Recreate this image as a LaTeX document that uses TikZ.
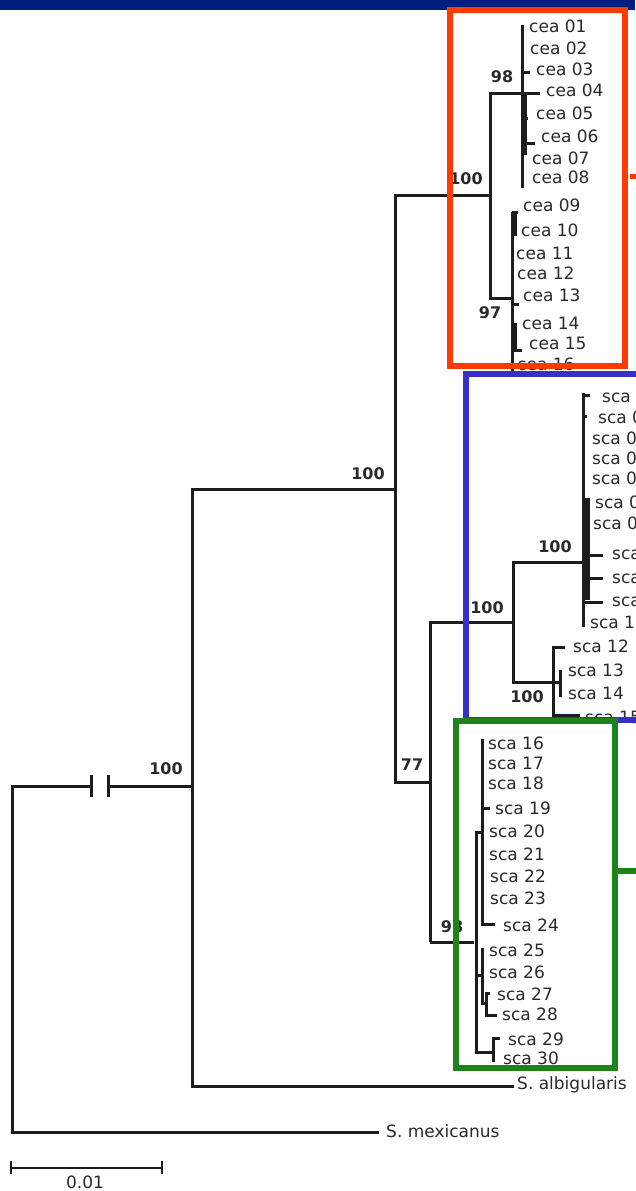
\documentclass[tikz,border=0pt]{standalone}
\usepackage{fontspec}
\setmainfont{DejaVu Sans}
\definecolor{navy}{HTML}{001E7E}
\definecolor{framered}{HTML}{FF3A00}
\definecolor{frameblue}{HTML}{3530C8}
\definecolor{framegreen}{HTML}{1E8419}
\definecolor{ink}{HTML}{1C1C1C}
\definecolor{txt}{HTML}{2A2A2A}
\newcommand\leaf[4]{\node[leaf] (#1) at (#2,#3+6) {#4};}
\newcommand\supp[4]{\node[supp] (#1) at (#2,#3) {#4};}
\begin{document}
\begin{tikzpicture}[x=1pt,y=-1pt,
  br/.style={line width=3pt, draw=ink, line join=miter},
  leaf/.style={anchor=base west, inner sep=0pt, font=\fontsize{17}{18}\selectfont, text=txt},
  supp/.style={anchor=center, inner sep=0pt, font=\bfseries\fontsize{16}{18}\selectfont, text=txt},
  frame/.style={line width=6pt}]
\useasboundingbox[fill=white] (0,0) rectangle (635,1191);
\fill[navy] (0,0) rectangle (635,10);

% ---------- tree ----------
\coordinate (root) at (12,786);
\coordinate (nB) at (192,786);
\coordinate (nC) at (395,489);
\coordinate (nD) at (490,195);
\coordinate (nE) at (430,782);
\coordinate (nF) at (513,622);
\coordinate (nG) at (474,942);

\draw[br] (379,1132) -- (12,1132) -- (root) -- (91,786);
\draw[br] (108,786) -- (nB);
\draw[br] (91,775) -- (91,797);
\draw[br] (108,775) -- (108,797);
\draw[br] (514,1086) -- (192,1086) -- (192,489) -- (nC);
\draw[br] (nE) -- (395,782) -- (395,195) -- (nD);
% cea clade
\draw[br] (540,93) -- (490,93) -- (490,298) -- (512,298);
\draw[br] (522,25) -- (522,188);
\draw[br] (522,72) -- (530,72);
\fill[ink] (521.5,95) rectangle (527,155);
\draw[br] (522,118) -- (528,118);
\draw[br] (522,143) -- (535,143);
\draw[br] (512,212) -- (512,372);
\draw[br] (512,212) -- (518,212);
\fill[ink] (511.5,214) rectangle (517,236);
\draw[br] (512,304) -- (519,304);
\draw[br] (512,335) -- (515,335);
\draw[br] (515,323) -- (515,350) -- (522,350);
% sca 01-15
\draw[br] (430,942) -- (430,622) -- (nF);
\draw[br] (583,562) -- (513,562) -- (513,682) -- (553,682);
\draw[br] (583,393) -- (583,627);
\draw[br] (583,395) -- (590,395);
\draw[br] (583,416) -- (587,416);
\fill[ink] (582.5,498) rectangle (590,600);
\draw[br] (583,555) -- (603,555);
\draw[br] (583,578) -- (603,578);
\draw[br] (583,602) -- (603,602);
\draw[br] (565,647) -- (553,647) -- (553,715) -- (580,715);
\draw[br] (553,682) -- (560,682);
\draw[br] (560,670) -- (560,697);
% sca 16-30
\draw[br] (430,942) -- (nG);
\draw[br] (482,832) -- (476,832) -- (476,1052) -- (493,1052);
\draw[br] (482,739) -- (482,924) -- (495,924);
\draw[br] (482,808) -- (490,808);
\draw[br] (476,975) -- (482,975);
\draw[br] (482,948) -- (482,1003) -- (486,1003);
\draw[br] (490,993) -- (486,993) -- (486,1015) -- (497,1015);
\draw[br] (500,1038) -- (493,1038) -- (493,1062);

% scale bar
\coordinate (sbL) at (11,1168);
\coordinate (sbR) at (162,1168);
\draw[line width=2pt, draw=ink] (sbL) -- (sbR);
\draw[line width=2pt, draw=ink] (11,1161) -- (11,1174);
\draw[line width=2pt, draw=ink] (162,1161) -- (162,1174);
\node[leaf, anchor=center] (scale) at (85,1182) {0.01};

% ---------- leaf labels ----------
\leaf{c01}{529}{26}{cea 01}
\leaf{c02}{530}{48}{cea 02}
\leaf{c03}{536}{69}{cea 03}
\leaf{c04}{546}{90}{cea 04}
\leaf{c05}{536}{113}{cea 05}
\leaf{c06}{541}{136}{cea 06}
\leaf{c07}{532}{158}{cea 07}
\leaf{c08}{532}{177}{cea 08}
\leaf{c09}{523}{205}{cea 09}
\leaf{c10}{521}{230}{cea 10}
\leaf{c11}{516}{253}{cea 11}
\leaf{c12}{517}{273}{cea 12}
\leaf{c13}{523}{295}{cea 13}
\leaf{c14}{522}{323}{cea 14}
\leaf{c15}{529}{343}{cea 15}
\leaf{c16}{517}{364}{cea 16}

\leaf{s01}{602}{396}{sca 01}
\leaf{s02}{598}{417}{sca 02}
\leaf{s03}{592}{438}{sca 03}
\leaf{s04}{592}{458}{sca 04}
\leaf{s05}{592}{478}{sca 05}
\leaf{s06}{595}{502}{sca 06}
\leaf{s07}{593}{523}{sca 07}
\leaf{s08}{612}{553}{sca 08}
\leaf{s09}{612}{577}{sca 09}
\leaf{s10}{612}{600}{sca 10}
\leaf{s11}{590}{622}{sca 11}
\leaf{s12}{573}{646}{sca 12}
\leaf{s13}{568}{670}{sca 13}
\leaf{s14}{568}{693}{sca 14}
\leaf{s15}{585}{717}{sca 15}

\leaf{s16}{488}{743}{sca 16}
\leaf{s17}{488}{763}{sca 17}
\leaf{s18}{488}{783}{sca 18}
\leaf{s19}{495}{808}{sca 19}
\leaf{s20}{489}{831}{sca 20}
\leaf{s21}{489}{854}{sca 21}
\leaf{s22}{490}{876}{sca 22}
\leaf{s23}{490}{898}{sca 23}
\leaf{s24}{503}{925}{sca 24}
\leaf{s25}{489}{950}{sca 25}
\leaf{s26}{489}{972}{sca 26}
\leaf{s27}{497}{994}{sca 27}
\leaf{s28}{502}{1014}{sca 28}
\leaf{s29}{508}{1039}{sca 29}
\leaf{s30}{503}{1058}{sca 30}
\leaf{salb}{517}{1083}{S. albigularis}
\leaf{smex}{386}{1131}{S. mexicanus}

% ---------- support values ----------
\supp{b1}{502}{77}{98}
\supp{b2}{466}{179}{100}
\supp{b3}{490}{313}{97}
\supp{b4}{368}{474}{100}
\supp{b5}{555}{547}{100}
\supp{b6}{487}{608}{100}
\supp{b7}{527}{697}{100}
\supp{b8}{412}{765}{77}
\supp{b9}{452}{927}{98}
\supp{b10}{166}{769}{100}

% ---------- frames ----------
\draw[frame, frameblue] (465.5,373.5) rectangle (700,720);
\draw[frame, framegreen] (455.5,721) rectangle (614.5,1068);
\draw[frame, framegreen] (617,871) -- (640,871);
\draw[frame, framered] (449.5,10) rectangle (624.5,366);
\draw[line width=5pt, framered] (630,176) -- (640,176);
\end{tikzpicture}
\end{document}
